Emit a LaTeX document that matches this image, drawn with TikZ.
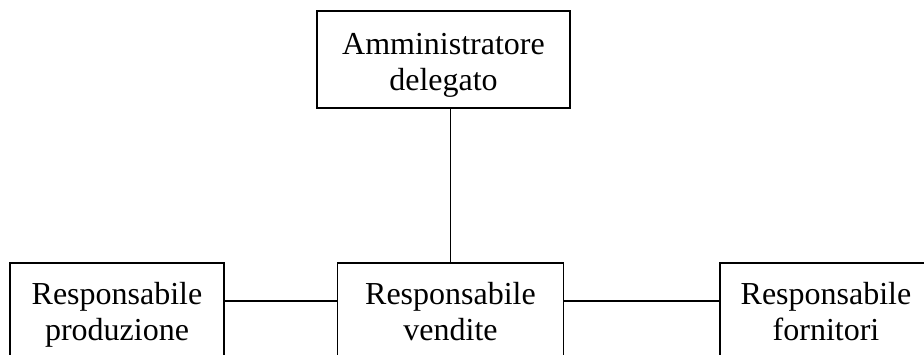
\documentclass[tikz,border=0pt]{standalone}
\usepackage{fontspec}
\setmainfont{Liberation Serif}
\tikzstyle{box}=[draw, line width=1.2pt, align=center, inner sep=0pt, minimum height=79.2pt, font=\fontsize{24}{27}\selectfont]
\tikzstyle{txt}=[align=center, inner sep=0pt, font=\fontsize{24}{27}\selectfont]
\tikzstyle{link}=[line width=1.2pt]

\begin{document}
\begin{tikzpicture}[x=0.75pt, y=-0.75pt]
	\useasboundingbox (0,0) rectangle (924,354);
	\clip (0,0) rectangle (924,354);
	% top box, text sits a little low in it
	\node[box, minimum width=189.75pt, minimum height=72.75pt] (ad) at (443.5,59.5) {};
	\node[txt] (adtxt) at ([yshift=-4.7pt]ad.center) {Amministratore\strut\\delegato\strut};
	\node[box, anchor=north, minimum width=160.5pt] (prod) at (117,262) {Responsabile\strut\\produzione\strut};
	\node[box, anchor=north, minimum width=169.5pt] (vend) at (450.5,262) {Responsabile\strut\\vendite\strut};
	\node[box, anchor=north, minimum width=159pt] (forn) at (826,262) {Responsabile\strut\\fornitori\strut};
	\draw[link] (ad.south -| vend.north) -- (vend.north);
	\draw[link] ([yshift=11.1pt]prod.east) -- ([yshift=11.1pt]vend.west);
	\draw[link] ([yshift=11.1pt]vend.east) -- ([yshift=11.1pt]forn.west);
\end{tikzpicture}
\end{document}
